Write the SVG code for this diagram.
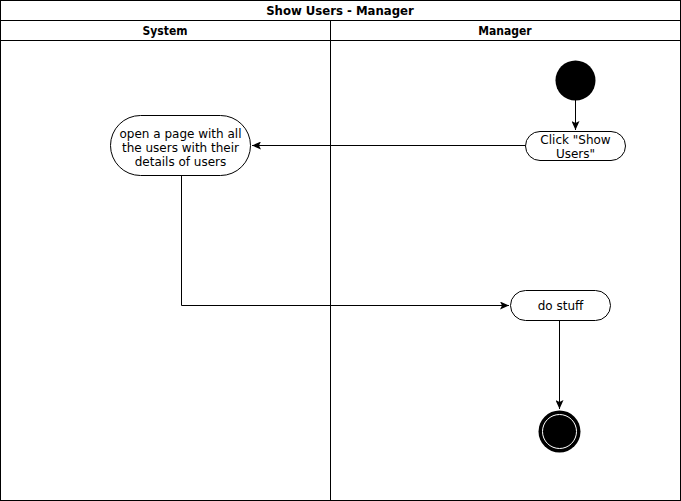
<svg xmlns="http://www.w3.org/2000/svg" width="681" height="501" viewBox="0 0 681 501">
<style>
.ln{stroke:#000;stroke-width:1;fill:none}
.node{fill:#fff;stroke:#000;stroke-width:1}
.t{font-family:"DejaVu Sans",Verdana,sans-serif;font-size:12px;fill:#000;text-anchor:middle}
.h{font-family:"DejaVu Sans Condensed","DejaVu Sans",sans-serif;font-size:12px;font-weight:bold;fill:#000;text-anchor:middle}
</style>
<defs>
<marker id="arr" markerWidth="10" markerHeight="8" refX="9" refY="4" orient="auto" markerUnits="userSpaceOnUse">
<path d="M0,0 L9,4 L0,8 L2,4 Z" fill="#000"/>
</marker>
</defs>
<rect width="681" height="501" fill="#fff"/>
<g id="pool">
<rect x="0.5" y="0.5" width="680" height="500" class="ln"/>
<line x1="0.5" y1="20.5" x2="680.5" y2="20.5" class="ln"/>
<line x1="0.5" y1="40.5" x2="680.5" y2="40.5" class="ln"/>
<line x1="330.5" y1="20.5" x2="330.5" y2="500.5" class="ln"/>
<text x="340" y="15" class="h" style="font-size:13px">Show Users - Manager</text>
<text x="165" y="35" class="h">System</text>
<text x="505" y="35" class="h">Manager</text>
</g>
<g id="connectors">
<line x1="575.5" y1="100" x2="575.5" y2="130" class="ln" marker-end="url(#arr)"/>
<line x1="525" y1="145.5" x2="252" y2="145.5" class="ln" marker-end="url(#arr)"/>
<polyline points="181.5,176 181.5,305.5 509,305.5" class="ln" marker-end="url(#arr)"/>
<line x1="559.5" y1="320" x2="559.5" y2="409" class="ln" marker-end="url(#arr)"/>
</g>
<g id="start">
<circle cx="575.5" cy="80.5" r="20" fill="#000"/>
</g>
<g id="click">
<rect x="525.5" y="131.5" width="100" height="29" rx="14.5" class="node"/>
<text x="575.5" y="144" class="t">Click "Show</text>
<text x="575.5" y="158" class="t">Users"</text>
</g>
<g id="open">
<rect x="110.5" y="115.5" width="140" height="60" rx="30" class="node"/>
<text x="180.5" y="138" class="t">open a page with all</text>
<text x="180.5" y="152" class="t">the users with their</text>
<text x="180.5" y="166" class="t">details of users</text>
</g>
<g id="dostuff">
<rect x="510.5" y="290.5" width="100" height="30" rx="15" class="node"/>
<text x="560.5" y="310" class="t">do stuff</text>
</g>
<g id="end">
<circle cx="559.5" cy="431.5" r="21" fill="#000"/>
<circle cx="559.5" cy="431.5" r="17" fill="none" stroke="#fff" stroke-width="1"/>
</g>
</svg>
